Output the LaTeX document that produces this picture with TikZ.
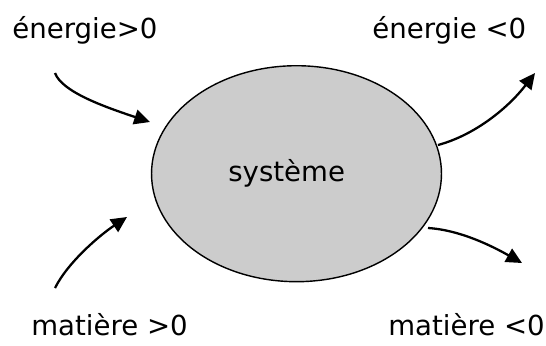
\documentclass[tikz,border=0pt]{standalone}
\usepackage{fontspec}
\setmainfont{DejaVu Sans}
\usepackage{tikz}
\usetikzlibrary{shapes.geometric, arrows.meta, positioning}
\definecolor{sysgray}{RGB}{204,204,204}
\definecolor{mydark}{RGB}{0,0,0}
\tikzset{
  sysbox/.style={ellipse, draw=mydark, fill=sysgray, line width=0.8pt,
    minimum width=5.8cm, minimum height=4.32cm, inner sep=0pt},
  lbl/.style={anchor=base west, inner sep=0pt,
    font=\fontsize{15.7}{18}\selectfont},
  flux/.style={-{Triangle[length=9pt,width=8.5pt]}, line width=1.3pt, color=mydark}
}
\begin{document}
\begin{tikzpicture}[x=0.02cm, y=-0.02cm]
  \useasboundingbox (0,0) rectangle (546,345);

  \node[sysbox] (sys) at (296.5,173.7) {};
  \node[lbl] (syslbl) at (228,181.7) {système};

  \node[lbl] (ein) at (12,38) {énergie>0};
  \node[lbl] (eout) at (372,38) {énergie <0};
  \node[lbl] (min) at (31,335) {matière >0};
  \node[lbl] (mout) at (388,335) {matière <0};

  % free ends of the flows
  \coordinate (ein1) at (55,73);
  \coordinate (ein2) at (150,122);
  \coordinate (eout1) at (438,145);
  \coordinate (eout2) at (535,73);
  \coordinate (min1) at (55,288);
  \coordinate (min2) at (127,217);
  \coordinate (mout1) at (428,228);
  \coordinate (mout2) at (522,263);

  \draw[flux] (ein1) .. controls (62,92) and (105,107) .. (ein2);
  \draw[flux] (eout1) .. controls (475,135) and (508,108) .. (eout2);
  \draw[flux] (min1) .. controls (68,262) and (100,235) .. (min2);
  \draw[flux] (mout1) .. controls (460,230) and (492,246) .. (mout2);
\end{tikzpicture}
\end{document}
